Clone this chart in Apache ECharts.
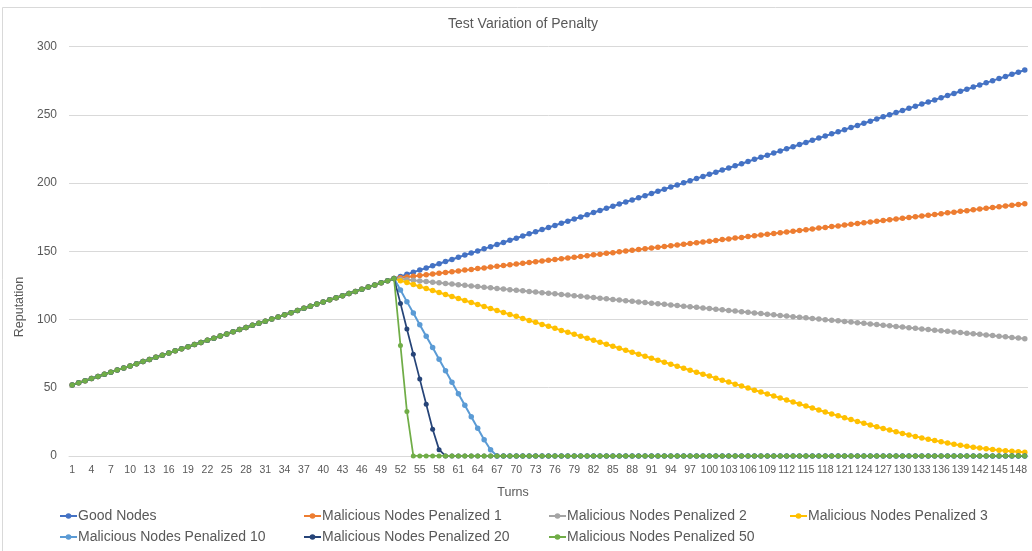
<!DOCTYPE html>
<html>
<head>
<meta charset="utf-8">
<title>Test Variation of Penalty</title>
<script src="https://cdn.jsdelivr.net/npm/echarts@6/dist/echarts.min.js"></script>
<style>
  html, body { margin: 0; padding: 0; background: #ffffff; }
  #chart { width: 1032px; height: 551px; }
</style>
</head>
<body>
<div id="chart"></div>
<script>
// Turn numbers along the x axis
const turns = [
  1,2,3,4,5,6,7,8,9,10,11,12,13,14,15,16,17,18,19,20,
  21,22,23,24,25,26,27,28,29,30,31,32,33,34,35,36,37,38,39,40,
  41,42,43,44,45,46,47,48,49,50,51,52,53,54,55,56,57,58,59,60,
  61,62,63,64,65,66,67,68,69,70,71,72,73,74,75,76,77,78,79,80,
  81,82,83,84,85,86,87,88,89,90,91,92,93,94,95,96,97,98,99,100,
  101,102,103,104,105,106,107,108,109,110,111,112,113,114,115,116,117,118,119,120,
  121,122,123,124,125,126,127,128,129,130,131,132,133,134,135,136,137,138,139,140,
  141,142,143,144,145,146,147,148,149
];

// Reputation shared by every node type over turns 1-51
const sharedRamp = [
  52.0,53.6,55.1,56.7,58.2,59.8,61.4,62.9,64.5,66.0,
  67.6,69.2,70.7,72.3,73.8,75.4,77.0,78.5,80.1,81.6,
  83.2,84.8,86.3,87.9,89.4,91.0,92.6,94.1,95.7,97.2,
  98.8,100.4,101.9,103.5,105.0,106.6,108.2,109.7,111.3,112.8,
  114.4,116.0,117.5,119.1,120.6,122.2,123.8,125.3,126.9,128.4,
  130.0
];

// Turns 52-149
const goodTail = [
  131.6,133.1,134.7,136.2,137.8,139.4,140.9,142.5,144.0,145.6,
  147.2,148.7,150.3,151.8,153.4,155.0,156.5,158.1,159.6,161.2,
  162.8,164.3,165.9,167.4,169.0,170.6,172.1,173.7,175.2,176.8,
  178.4,179.9,181.5,183.0,184.6,186.2,187.7,189.3,190.8,192.4,
  194.0,195.5,197.1,198.6,200.2,201.8,203.3,204.9,206.4,208.0,
  209.6,211.1,212.7,214.2,215.8,217.4,218.9,220.5,222.0,223.6,
  225.2,226.7,228.3,229.8,231.4,233.0,234.5,236.1,237.6,239.2,
  240.8,242.3,243.9,245.4,247.0,248.6,250.1,251.7,253.2,254.8,
  256.4,257.9,259.5,261.0,262.6,264.2,265.7,267.3,268.8,270.4,
  272.0,273.5,275.1,276.6,278.2,279.8,281.3,282.9
];

const penalized1Tail = [
  130.6,131.1,131.7,132.2,132.8,133.4,133.9,134.5,135.0,135.6,
  136.2,136.7,137.3,137.8,138.4,139.0,139.5,140.1,140.6,141.2,
  141.8,142.3,142.9,143.4,144.0,144.6,145.1,145.7,146.2,146.8,
  147.4,147.9,148.5,149.0,149.6,150.2,150.7,151.3,151.8,152.4,
  153.0,153.5,154.1,154.6,155.2,155.8,156.3,156.9,157.4,158.0,
  158.6,159.1,159.7,160.2,160.8,161.4,161.9,162.5,163.0,163.6,
  164.2,164.7,165.3,165.8,166.4,167.0,167.5,168.1,168.6,169.2,
  169.8,170.3,170.9,171.4,172.0,172.6,173.1,173.7,174.2,174.8,
  175.4,175.9,176.5,177.0,177.6,178.2,178.7,179.3,179.8,180.4,
  181.0,181.5,182.1,182.6,183.2,183.8,184.3,184.9
];

const penalized2Tail = [
  129.6,129.1,128.7,128.2,127.8,127.3,126.9,126.4,126.0,125.5,
  125.1,124.6,124.2,123.7,123.3,122.8,122.4,121.9,121.5,121.0,
  120.6,120.1,119.7,119.2,118.8,118.3,117.9,117.4,117.0,116.5,
  116.1,115.6,115.2,114.7,114.3,113.8,113.4,112.9,112.5,112.0,
  111.6,111.1,110.7,110.2,109.8,109.3,108.9,108.4,108.0,107.5,
  107.1,106.6,106.2,105.7,105.3,104.8,104.4,103.9,103.5,103.0,
  102.6,102.1,101.7,101.2,100.8,100.3,99.9,99.4,99.0,98.5,
  98.1,97.6,97.2,96.7,96.3,95.8,95.4,94.9,94.5,94.0,
  93.6,93.1,92.7,92.2,91.8,91.3,90.9,90.4,90.0,89.5,
  89.1,88.6,88.2,87.7,87.3,86.8,86.4,85.9
];

const penalized3Tail = [
  128.5,127.1,125.6,124.2,122.7,121.2,119.8,118.3,116.9,115.4,
  113.9,112.5,111.0,109.6,108.1,106.6,105.2,103.7,102.3,100.8,
  99.3,97.9,96.4,95.0,93.5,92.0,90.6,89.1,87.7,86.2,
  84.7,83.3,81.8,80.4,78.9,77.4,76.0,74.5,73.1,71.6,
  70.1,68.7,67.2,65.8,64.3,62.8,61.4,59.9,58.5,57.0,
  55.5,54.1,52.6,51.2,49.7,48.2,46.8,45.3,43.9,42.4,
  40.9,39.5,38.0,36.6,35.1,33.7,32.2,30.8,29.4,28.0,
  26.6,25.3,24.0,22.7,21.4,20.1,18.9,17.7,16.5,15.4,
  14.3,13.2,12.2,11.2,10.3,9.4,8.6,7.8,7.1,6.4,
  5.8,5.2,4.7,4.2,3.8,3.4,3.0,2.7
];

// Heavier penalties: the drop before reputation bottoms out
const penalized10Drop = [121.6,113.1,104.7,96.2,87.8,79.4,70.9,62.5,54.0,45.6,37.2,28.7,20.3,11.8,4.5];
const penalized20Drop = [111.8,93.0,74.6,56.3,37.9,19.5,4.6];
const penalized50Drop = [81.0,32.6];

// Reputation floor held after the drop (turns 54-149 at most)
const floorZeros = [
  0,0,0,0,0,0,0,0,0,0,0,0,0,0,0,0,0,0,0,0,0,0,0,0,
  0,0,0,0,0,0,0,0,0,0,0,0,0,0,0,0,0,0,0,0,0,0,0,0,
  0,0,0,0,0,0,0,0,0,0,0,0,0,0,0,0,0,0,0,0,0,0,0,0,
  0,0,0,0,0,0,0,0,0,0,0,0,0,0,0,0,0,0,0,0,0,0,0,0
];

const yTicks = [0, 50, 100, 150, 200, 250, 300];

const seriesNames = [
  'Good Nodes',
  'Malicious Nodes Penalized 1',
  'Malicious Nodes Penalized 2',
  'Malicious Nodes Penalized 3',
  'Malicious Nodes Penalized 10',
  'Malicious Nodes Penalized 20',
  'Malicious Nodes Penalized 50'
];
const seriesColors = ['#4472C4', '#ED7D31', '#A5A5A5', '#FFC000', '#5B9BD5', '#264478', '#70AD47'];

const seriesData = [
  sharedRamp.concat(goodTail),
  sharedRamp.concat(penalized1Tail),
  sharedRamp.concat(penalized2Tail),
  sharedRamp.concat(penalized3Tail),
  sharedRamp.concat(penalized10Drop, floorZeros.slice(0, 83)),
  sharedRamp.concat(penalized20Drop, floorZeros.slice(0, 91)),
  sharedRamp.concat(penalized50Drop, floorZeros.slice(0, 96))
];

const FONT = 'Liberation Sans, Arial, sans-serif';
const TEXT = '#595959';

// Legend slots laid out on a fixed grid: four columns, two rows
const legendCols = [59, 303, 548, 789];
const legendRows = [509, 530];

const chart = echarts.init(document.getElementById('chart'), null, { renderer: 'canvas' });

const legends = seriesNames.map(function (name, i) {
  return {
    orient: 'horizontal',
    left: legendCols[i % 4],
    top: legendRows[Math.floor(i / 4)],
    itemWidth: 17,
    itemHeight: 7,
    itemGap: 0,
    padding: 0,
    selectedMode: false,
    data: [name],
    textStyle: { fontFamily: FONT, fontSize: 14, color: TEXT, padding: [0, 0, 0, -4] }
  };
});

chart.setOption({
  animation: false,
  backgroundColor: '#ffffff',
  grid: { left: 69, right: 4, top: 46.7, bottom: 95.1, containLabel: false },
  legend: legends,
  xAxis: {
    type: 'category',
    data: turns,
    boundaryGap: true,
    axisLine: { show: true, lineStyle: { color: '#D9D9D9', width: 1 } },
    axisTick: { show: false },
    axisLabel: { interval: 2, margin: 9, fontFamily: FONT, fontSize: 10.5, color: TEXT }
  },
  yAxis: {
    type: 'value',
    min: yTicks[0],
    max: yTicks[yTicks.length - 1],
    interval: yTicks[1] - yTicks[0],
    axisLine: { show: false },
    axisTick: { show: false },
    splitLine: { lineStyle: { color: '#D9D9D9', width: 1 } },
    axisLabel: { margin: 12, fontFamily: FONT, fontSize: 12, color: TEXT }
  },
  graphic: [
    { type: 'rect', silent: true, shape: { x: 2.5, y: 7.5, width: 1040, height: 560 },
      style: { fill: 'none', stroke: '#D9D9D9', lineWidth: 1 } },
    { type: 'text', silent: true,
      style: { x: 523, y: 24, text: 'Test Variation of Penalty', align: 'center', verticalAlign: 'middle',
               font: '14px ' + FONT, fill: TEXT } },
    { type: 'text', silent: true, x: 20, y: 307, rotation: Math.PI / 2,
      style: { x: 0, y: 0, text: 'Reputation', align: 'center', verticalAlign: 'middle',
               font: '12.5px ' + FONT, fill: TEXT } },
    { type: 'text', silent: true,
      style: { x: 513, y: 493, text: 'Turns', align: 'center', verticalAlign: 'middle',
               font: '12.5px ' + FONT, fill: TEXT } }
  ],
  series: seriesNames.map(function (name, i) {
    const thin = i >= 5;
    return {
      name: name,
      type: 'line',
      data: seriesData[i],
      symbol: 'circle',
      symbolSize: thin ? 5 : 5.5,
      showSymbol: true,
      showAllSymbol: true,
      lineStyle: { color: seriesColors[i], width: thin ? 1.75 : 2 },
      itemStyle: { color: seriesColors[i] },
      emphasis: { disabled: true },
      z: 2 + i
    };
  })
});
</script>
</body>
</html>
